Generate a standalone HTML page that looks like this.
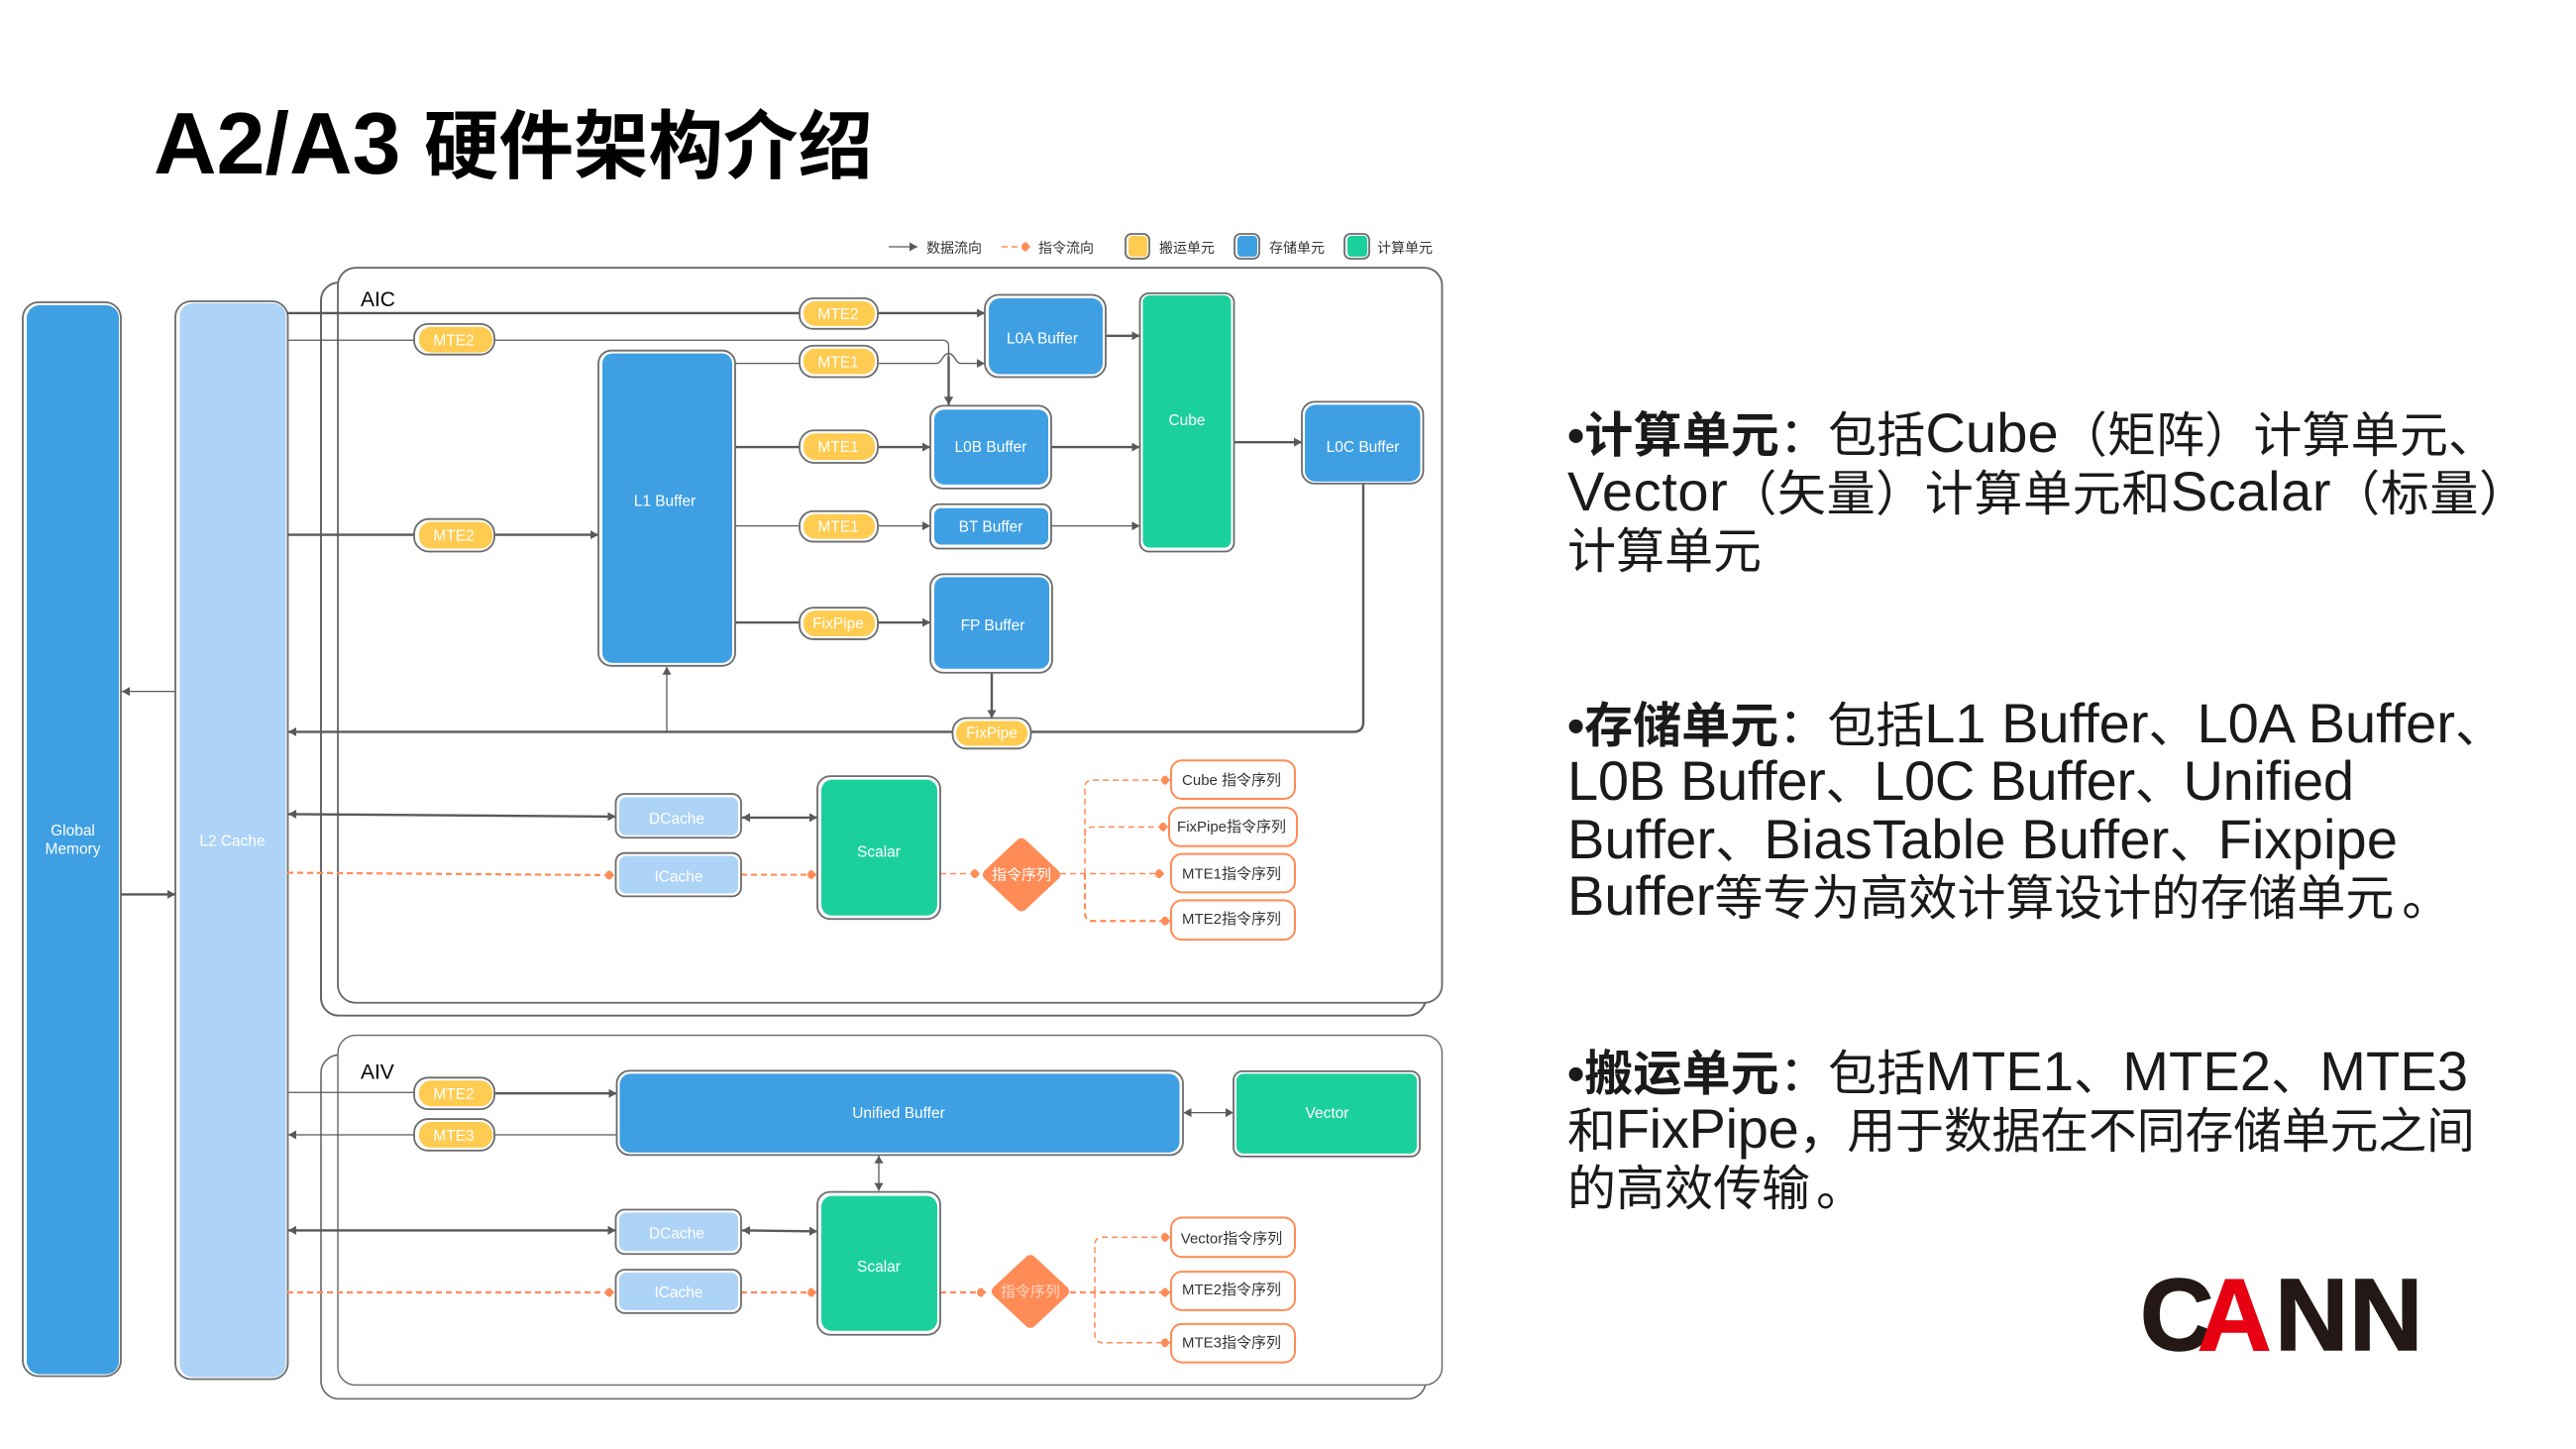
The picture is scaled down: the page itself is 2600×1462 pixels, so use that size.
<!DOCTYPE html>
<html lang="zh">
<head>
<meta charset="utf-8">
<title>A2/A3 硬件架构介绍</title>
<style>
html,body{margin:0;padding:0;background:#fff;width:2600px;height:1462px;overflow:hidden}
svg{display:block}
text{font-family:"Liberation Sans","Noto Sans CJK SC",sans-serif}
.k{fill:none;stroke:#595959;stroke-width:2.4}
.t{fill:none;stroke:#595959;stroke-width:1.3}
.o{fill:none;stroke:#ff8b56;stroke-width:2.2;stroke-dasharray:6 4}
.os{fill:none;stroke:#ff8b56;stroke-width:1.5;stroke-dasharray:6 4}
.n{fill:#fff;stroke:#6b6b6b;stroke-width:1.8}
.w{fill:#fff;font-size:15.5px;text-anchor:middle}
.d{fill:#333;font-size:15px;text-anchor:middle}
.lg{fill:#333;font-size:14px}
.b{fill:#3e9fe3}.l{fill:#add3f6}.g{fill:#1bd09d}.y{fill:#ffcb50}
.ob{fill:#fff;stroke:#ff8b56;stroke-width:2}
.body{fill:#1a1a1a;font-size:56px}
.c{font-size:49px}
.h{font-size:49px;font-weight:bold}
</style>
</head>
<body>
<svg width="2600" height="1462" viewBox="0 0 2600 1462" xmlns="http://www.w3.org/2000/svg">
<defs>
<marker id="ag" markerUnits="userSpaceOnUse" markerWidth="12" markerHeight="12" refX="10" refY="6" orient="auto-start-reverse"><path d="M2 1.5L10 6L2 10.5Z" fill="#595959"/></marker>
<marker id="ao" markerUnits="userSpaceOnUse" markerWidth="12" markerHeight="12" refX="10" refY="6" orient="auto"><path d="M1 6A4.5 4.5 0 0 1 6 1.500L10 6L6 10.500A4.5 4.5 0 0 1 1 6Z" fill="#ff8b56"/></marker>
</defs>

<!-- Title -->
<text x="155" y="175" font-size="88" font-weight="bold" fill="#000">A2/A3</text>
<text x="428" y="174" font-size="75.500" font-weight="bold" fill="#000" style="font-family:'Noto Sans CJK SC',sans-serif">硬件架构介绍</text>

<!-- Legend -->
<path class="t" d="M897 249H926" marker-end="url(#ag)"/>
<text class="lg" x="935" y="255">数据流向</text>
<path class="os" d="M1011 249H1040" marker-end="url(#ao)"/>
<text class="lg" x="1048" y="255">指令流向</text>
<rect class="n" x="1136" y="236" width="24" height="25" rx="6"/><rect class="y" x="1139" y="238" width="19" height="21" rx="4"/>
<text class="lg" x="1170" y="255">搬运单元</text>
<rect class="n" x="1246" y="236" width="25" height="25" rx="6"/><rect class="b" x="1249" y="238" width="20" height="21" rx="4"/>
<text class="lg" x="1281" y="255">存储单元</text>
<rect class="n" x="1357" y="236" width="25" height="25" rx="6"/><rect class="g" x="1360" y="238" width="20" height="21" rx="4"/>
<text class="lg" x="1390" y="255">计算单元</text>

<g transform="translate(0 1.8) scale(1 .99406)">
<!-- Panels -->
<rect x="324" y="285" width="1115" height="744" rx="18" fill="#fff" stroke="#666" stroke-width="2"/>
<rect x="341" y="270" width="1114.500" height="746" rx="18" fill="#fff" stroke="#666" stroke-width="1.8"/>
<text x="364" y="309" font-size="21" fill="#000">AIC</text>
<rect x="324" y="1069" width="1115" height="349" rx="18" fill="#fff" stroke="#666" stroke-width="1.6"/>
<rect x="341" y="1049" width="1114.500" height="355" rx="18" fill="#fff" stroke="#666" stroke-width="1.4"/>
<text x="364" y="1093" font-size="21" fill="#000">AIV</text>

<!-- Left columns -->
<rect class="n" x="23" y="305" width="99" height="1090" rx="16" stroke-width="1.4"/>
<rect class="b" x="27" y="308" width="93" height="1085" rx="13"/>
<text class="w" x="73.500" y="846">Global</text>
<text class="w" x="73.500" y="865">Memory</text>
<rect class="n" x="177" y="304" width="113.500" height="1094" rx="16" stroke-width="1.4"/>
<rect class="l" x="181.500" y="306" width="107" height="1090" rx="13"/>
<text class="w" x="234.500" y="857">L2 Cache</text>

<path class="t" d="M177 700H123" marker-end="url(#ag)"/>
<path class="k" d="M122 906H177" marker-end="url(#ag)"/>

<!-- AIC grey connectors -->
<path class="k" d="M290 316H994" marker-end="url(#ag)"/>
<path class="t" d="M290 343.500H951.500Q957.500 343.500 957.500 350V409" marker-end="url(#ag)"/>
<path class="k" d="M957.500 360V409" marker-end="url(#ag)"/>
<path class="t" d="M742 367H945.500C950.500 367 951.500 357 957.500 357C963.500 357 964.500 367 969.500 367H994" marker-end="url(#ag)"/>
<path class="k" d="M290 541H604" marker-end="url(#ag)"/>
<path class="k" d="M742 452H939" marker-end="url(#ag)"/>
<path class="t" d="M742 532H939" marker-end="url(#ag)"/>
<path class="k" d="M742 630H939" marker-end="url(#ag)"/>
<path class="k" d="M1116 339H1150.500" marker-end="url(#ag)"/>
<path class="k" d="M1061 452H1150.500" marker-end="url(#ag)"/>
<path class="t" d="M1061 532H1150.500" marker-end="url(#ag)"/>
<path class="k" d="M1245.500 447H1314" marker-end="url(#ag)"/>
<path class="k" d="M1001 681V727" marker-end="url(#ag)"/>
<path class="k" d="M1376 489V731Q1376 741 1366 741H291" marker-end="url(#ag)"/>
<path class="t" d="M673 741V675" marker-end="url(#ag)"/>
<path class="k" d="M291 824.500L621.500 827" marker-start="url(#ag)" marker-end="url(#ag)"/>
<path class="k" d="M749 828H825" marker-start="url(#ag)" marker-end="url(#ag)"/>

<!-- AIC orange connectors -->
<path class="o" d="M290 884L620 886.500" marker-end="url(#ao)"/>
<path class="o" d="M748 886H824" marker-end="url(#ao)"/>
<path class="os" d="M949 885H989" marker-end="url(#ao)"/>
<path class="os" d="M1070 885H1175" marker-end="url(#ao)"/>
<path class="os" d="M1095 885V798Q1095 790 1103 790H1181" marker-end="url(#ao)"/>
<path class="os" d="M1095 847Q1095 837.500 1103 837.500H1179" marker-end="url(#ao)"/>
<path class="o" d="M1095 885V924Q1095 933 1103 933H1181" marker-end="url(#ao)"/>

<!-- AIV connectors -->
<path class="t" d="M290 1107H418"/>
<path class="k" d="M499 1108H622.500" marker-end="url(#ag)"/>
<path class="t" d="M622.500 1150H291" marker-end="url(#ag)"/>
<path class="k" d="M291 1247H621.500" marker-start="url(#ag)" marker-end="url(#ag)"/>
<path class="k" d="M749 1247L825 1248" marker-start="url(#ag)" marker-end="url(#ag)"/>
<path class="t" d="M1194.500 1127.500H1245" marker-start="url(#ag)" marker-end="url(#ag)"/>
<path class="t" d="M887 1171V1207" marker-start="url(#ag)" marker-end="url(#ag)"/>
<path class="o" d="M290 1310H620" marker-end="url(#ao)"/>
<path class="o" d="M748 1310H824" marker-end="url(#ao)"/>
<path class="o" d="M949 1310H995" marker-end="url(#ao)"/>
<path class="o" d="M1080 1310H1181" marker-end="url(#ao)"/>
<path class="os" d="M1105 1310V1262Q1105 1254 1113 1254H1181" marker-end="url(#ao)"/>
<path class="os" d="M1105 1310V1353Q1105 1361 1113 1361H1181" marker-end="url(#ao)"/>

<!-- Pills -->
<rect class="n" x="418" y="327" width="81" height="31" rx="14"/><rect class="y" x="423" y="330" width="74" height="26" rx="12"/><text class="w" x="458" y="349">MTE2</text>
<rect class="n" x="418" y="525" width="81" height="33" rx="15"/><rect class="y" x="423" y="528" width="74" height="27" rx="12"/><text class="w" x="458" y="547">MTE2</text>
<rect class="n" x="807" y="301" width="79" height="31" rx="14"/><rect class="y" x="811" y="304" width="72" height="25" rx="12"/><text class="w" x="846" y="322">MTE2</text>
<rect class="n" x="807" y="349" width="79" height="32" rx="14"/><rect class="y" x="811" y="352" width="72" height="26" rx="12"/><text class="w" x="846" y="371">MTE1</text>
<rect class="n" x="807" y="435" width="79" height="33" rx="15"/><rect class="y" x="811" y="438" width="72" height="27" rx="12"/><text class="w" x="846" y="457">MTE1</text>
<rect class="n" x="807" y="517" width="79" height="31" rx="14"/><rect class="y" x="811" y="520" width="72" height="25" rx="12"/><text class="w" x="846" y="538">MTE1</text>
<rect class="n" x="807" y="615" width="79" height="32" rx="14"/><rect class="y" x="811" y="618" width="72" height="26" rx="12"/><text class="w" x="846" y="636">FixPipe</text>
<rect class="n" x="961.500" y="727" width="79" height="31" rx="14"/><rect class="y" x="965" y="730" width="72" height="25" rx="12"/><text class="w" x="1001" y="747">FixPipe</text>
<rect class="n" x="418" y="1092" width="81" height="32" rx="14"/><rect class="y" x="423" y="1095" width="74" height="26" rx="12"/><text class="w" x="458" y="1114">MTE2</text>
<rect class="n" x="418" y="1134" width="81" height="32" rx="14"/><rect class="y" x="423" y="1137" width="74" height="26" rx="12"/><text class="w" x="458" y="1156">MTE3</text>

<!-- Buffers -->
<rect class="n" x="604" y="354" width="138" height="320" rx="13"/><rect class="b" x="608" y="357" width="131" height="314" rx="10"/><text class="w" x="671" y="512">L1 Buffer</text>
<rect class="n" x="994" y="297.500" width="122" height="83.500" rx="14" stroke-width="2.2"/><rect class="b" x="998" y="301" width="115" height="77" rx="11"/><text class="w" x="1052" y="347">L0A Buffer</text>
<rect class="n" x="939" y="410" width="122" height="84" rx="13" stroke-width="2"/><rect class="b" x="943" y="414" width="115" height="76" rx="10"/><text class="w" x="1000" y="457">L0B Buffer</text>
<rect class="n" x="939" y="510" width="122" height="45" rx="9" stroke-width="2"/><rect class="b" x="943" y="514" width="115" height="37" rx="7"/><text class="w" x="1000" y="538">BT Buffer</text>
<rect class="n" x="939" y="581" width="123" height="100" rx="13" stroke-width="2"/><rect class="b" x="943" y="584" width="116" height="93" rx="10"/><text class="w" x="1002" y="638">FP Buffer</text>
<rect class="n" x="1314" y="406" width="122.500" height="83" rx="13"/><rect class="b" x="1317" y="409" width="116.500" height="78" rx="11"/><text class="w" x="1375.500" y="457">L0C Buffer</text>
<rect class="n" x="1150.500" y="296" width="95" height="262" rx="9" stroke-width="2"/><rect class="g" x="1153.500" y="298" width="89" height="256" rx="7"/><text class="w" x="1198" y="430">Cube</text>

<!-- Caches -->
<rect class="n" x="621.500" y="804" width="126.500" height="44.500" rx="9" stroke-width="2"/><rect class="l" x="625" y="807.500" width="120" height="38.500" rx="7"/><text class="w" x="683" y="834">DCache</text>
<rect class="n" x="621.500" y="864" width="126.500" height="44" rx="9" stroke-width="2"/><rect class="l" x="625" y="867" width="120" height="38" rx="7"/><text class="w" x="685" y="893">ICache</text>
<rect class="n" x="621.500" y="1226" width="126.500" height="45" rx="9" stroke-width="2"/><rect class="l" x="625" y="1229" width="120" height="39" rx="7"/><text class="w" x="683" y="1255">DCache</text>
<rect class="n" x="621.500" y="1287" width="126.500" height="44" rx="9" stroke-width="2"/><rect class="l" x="625" y="1290" width="120" height="38" rx="7"/><text class="w" x="685" y="1315">ICache</text>

<!-- Scalars -->
<rect class="n" x="825" y="786" width="124" height="145" rx="13" stroke-width="2.2"/><rect class="g" x="829" y="789.500" width="117" height="138" rx="11"/><text class="w" x="887" y="868">Scalar</text>
<rect class="n" x="825" y="1208" width="124" height="145" rx="13" stroke-width="2.2"/><rect class="g" x="829" y="1212" width="117" height="137" rx="11"/><text class="w" x="887" y="1289">Scalar</text>

<!-- AIV big -->
<rect class="n" x="622.500" y="1085" width="571.500" height="85.500" rx="13" stroke-width="2"/><rect class="b" x="625.500" y="1088" width="565" height="80" rx="11"/><text class="w" x="907" y="1133">Unified Buffer</text>
<rect class="n" x="1245" y="1085.500" width="188" height="86.500" rx="9" stroke-width="1.8"/><rect class="g" x="1248" y="1088" width="182" height="81" rx="7"/><text class="w" x="1339.500" y="1133">Vector</text>

<!-- Diamonds -->
<polygon points="1031,855 1064,886 1031,917 998,886" fill="#ff8b56" stroke="#ff8b56" stroke-width="12" stroke-linejoin="round"/>
<text x="1031" y="891" font-size="15" fill="#fff" text-anchor="middle">指令序列</text>
<polygon points="1040,1278 1073,1309 1040,1340 1007,1309" fill="#ff8b56" stroke="#ff8b56" stroke-width="12" stroke-linejoin="round"/>
<text x="1040" y="1314" font-size="15" fill="#ffd7c5" text-anchor="middle">指令序列</text>

<!-- Sequence boxes -->
<rect class="ob" x="1182" y="770" width="125" height="39" rx="11"/><text class="d" x="1243" y="795">Cube 指令序列</text>
<rect class="ob" x="1180" y="818" width="129" height="39" rx="11"/><text class="d" x="1243" y="842">FixPipe指令序列</text>
<rect class="ob" x="1182" y="865" width="125" height="39" rx="11"/><text class="d" x="1243" y="890">MTE1指令序列</text>
<rect class="ob" x="1182" y="912" width="125" height="40" rx="11"/><text class="d" x="1243" y="936">MTE2指令序列</text>
<rect class="ob" x="1182" y="1234" width="125" height="40" rx="11"/><text class="d" x="1243" y="1260">Vector指令序列</text>
<rect class="ob" x="1182" y="1289" width="125" height="39" rx="11"/><text class="d" x="1243" y="1312">MTE2指令序列</text>
<rect class="ob" x="1182" y="1342" width="125" height="39" rx="11"/><text class="d" x="1243" y="1366">MTE3指令序列</text>
</g>

<!-- Right text -->
<text class="body" x="1582" y="456" textLength="938"><tspan class="h">•计算单元</tspan><tspan class="c">：包括</tspan>Cube<tspan class="c">（矩阵）计算单元、</tspan></text>
<text class="body" x="1582" y="515" textLength="969">Vector<tspan class="c">（矢量）计算单元和</tspan>Scalar<tspan class="c">（标量）</tspan></text>
<text class="body" x="1582" y="573"><tspan class="c">计算单元</tspan></text>

<text class="body" x="1582" y="749" textLength="945"><tspan class="h">•存储单元</tspan><tspan class="c">：包括</tspan>L1 Buffer<tspan class="c">、</tspan>L0A Buffer<tspan class="c">、</tspan></text>
<text class="body" x="1582" y="807" textLength="794">L0B Buffer<tspan class="c">、</tspan>L0C Buffer<tspan class="c">、</tspan>Unified</text>
<text class="body" x="1582" y="866" textLength="838">Buffer<tspan class="c">、</tspan>BiasTable Buffer<tspan class="c">、</tspan>Fixpipe</text>
<text class="body" x="1582" y="923">Buffer<tspan class="c">等专为高效计算设计的存储单元</tspan><tspan class="c" dx="8">。</tspan></text>

<text class="body" x="1582" y="1100" textLength="909"><tspan class="h">•搬运单元</tspan><tspan class="c">：包括</tspan>MTE1<tspan class="c">、</tspan>MTE2<tspan class="c">、</tspan>MTE3</text>
<text class="body" x="1582" y="1158" textLength="916"><tspan class="c">和</tspan>FixPipe<tspan class="c">，用于数据在不同存储单元之间</tspan></text>
<text class="body" x="1582" y="1216"><tspan class="c">的高效传输</tspan><tspan class="c" dx="6">。</tspan></text>

<!-- CANN logo as text -->
<text x="2160 2218 2296 2371" y="1362" font-size="103" font-weight="bold" fill="#231815" stroke="#231815" stroke-width="1.5">C<tspan fill="#e60012" stroke="#e60012">A</tspan>NN</text>
</svg>
</body>
</html>
